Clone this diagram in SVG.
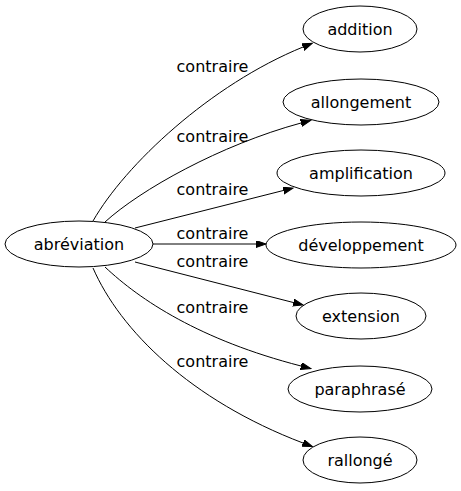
<svg xmlns="http://www.w3.org/2000/svg" width="461" height="491" viewBox="0 0 461 491">
<style>
text{font-family:"DejaVu Sans",sans-serif;font-size:16px;fill:#000;text-anchor:middle}
ellipse{fill:none;stroke:#000;stroke-width:1}
.e path{fill:none;stroke:#000;stroke-width:1}
</style>
<defs>
<marker id="ah" markerUnits="userSpaceOnUse" markerWidth="11" markerHeight="8" refX="0" refY="3.5" orient="auto">
<path d="M0,0 L10,3.5 L0,7 z" fill="#000" stroke="#000" stroke-width="1"/>
</marker>
</defs>
<rect width="461" height="491" fill="#fff"/>
<g class="e" id="edges">
<path d="M93,221 C125,165 210,85 303,47" marker-end="url(#ah)"/>
<path d="M105,222 C140,190 220,145 301,123" marker-end="url(#ah)"/>
<path d="M135,228 L283.3,190.5" marker-end="url(#ah)"/>
<path d="M153,244 L256,244" marker-end="url(#ah)"/>
<path d="M135,262 L293.3,302.5" marker-end="url(#ah)"/>
<path d="M105,267 C140,300 200,340 301,366" marker-end="url(#ah)"/>
<path d="M93,268 C120,330 190,400 303,443" marker-end="url(#ah)"/>
<text x="212.5" y="72">contraire</text>
<text x="212.5" y="142">contraire</text>
<text x="212.5" y="195">contraire</text>
<text x="212.5" y="239">contraire</text>
<text x="212.5" y="267">contraire</text>
<text x="212.5" y="313">contraire</text>
<text x="212.5" y="367">contraire</text>
</g>
<g id="n0"><ellipse cx="79" cy="244" rx="74" ry="23"/><text x="79" y="250">abréviation</text></g>
<g id="n1"><ellipse cx="360" cy="29" rx="57" ry="23"/><text x="360" y="35">addition</text></g>
<g id="n2"><ellipse cx="361" cy="102" rx="78" ry="23"/><text x="361" y="108">allongement</text></g>
<g id="n3"><ellipse cx="361" cy="173" rx="84" ry="23"/><text x="361" y="179">amplification</text></g>
<g id="n4"><ellipse cx="361" cy="245" rx="95" ry="23"/><text x="361" y="251">développement</text></g>
<g id="n5"><ellipse cx="361" cy="316" rx="65" ry="23"/><text x="361" y="322">extension</text></g>
<g id="n6"><ellipse cx="360" cy="389" rx="72" ry="23"/><text x="360" y="395">paraphrasé</text></g>
<g id="n7"><ellipse cx="360" cy="460" rx="57" ry="23"/><text x="360" y="466">rallongé</text></g>
</svg>
